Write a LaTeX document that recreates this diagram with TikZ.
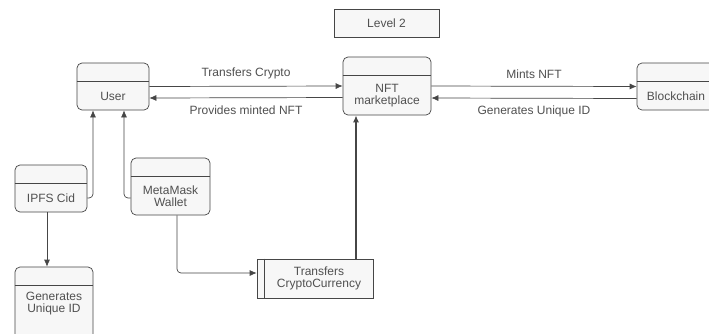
\documentclass[tikz,border=0pt]{standalone}
\usepackage{fontspec}
\setmainfont{Liberation Sans}
\usetikzlibrary{arrows.meta}
\usetikzlibrary{calc}
\definecolor{mygrey}{RGB}{70,70,70}
\definecolor{mytext}{RGB}{80,80,80}
\definecolor{myfill}{RGB}{247,247,247}
\newcommand\lanenode[6][]{%
  \node[lane,minimum width=#4pt,minimum height=#5pt] (#2) at (#3) {};
  \draw[mygrey,line width=0.7pt] ([yshift=-19pt]#2.north west) -- ([yshift=-19pt]#2.north east);
  \node[lanetext,#1] (#2 txt) at ($(#2.south)!0.5!([yshift=-19pt]#2.north)$) {#6};
}

\begin{document}
\begin{tikzpicture}[
x=1pt,y=-1pt,
>={Latex[length=7pt,width=6pt]},
lane/.style={
  draw=mygrey,
  line width=0.7pt,
  fill=myfill,
  rounded corners=5pt},
lanetext/.style={
  text=mytext,
  align=center,
  font=\fontsize{12}{12.5}\selectfont},
flow/.style={->,draw=mygrey,line width=0.7pt,rounded corners=4pt}
]
\useasboundingbox (0,0) rectangle (709,333);
\fill[white] (0,0) rectangle (709,333);

\node[draw=mygrey,line width=0.7pt,fill=myfill,minimum width=105pt,minimum height=28pt,
  text=mytext,font=\fontsize{12}{12.5}\selectfont] (level) at (386.5,23) {Level 2};

\lanenode{user}{113,86.5}{72}{47}{User}
\lanenode{nft}{387,86}{88}{58}{NFT\\marketplace}
\lanenode{chain}{676,86.5}{78}{47}{Blockchain}
\lanenode{ipfs}{51,188.5}{72}{47}{IPFS Cid}
\lanenode{wallet}{170.5,186.5}{79}{57}{MetaMask\\Wallet}
\lanenode[yshift=9pt]{uid}{54,303}{78}{72}{Generates\\Unique ID}

\node[draw=mygrey,line width=0.7pt,fill=myfill,minimum width=116pt,minimum height=39pt] (xfer) at (315,278.5) {};
\draw[mygrey,line width=0.7pt] ([xshift=8pt]xfer.north west) -- ([xshift=8pt]xfer.south west);
\node[lanetext] (xfer txt) at ([xshift=4pt]xfer.center) {Transfers\\CryptoCurrency};

% top row
\draw[flow] (user.east) -- node[lanetext,above=4pt] {Transfers Crypto} (nft.west);
\draw[flow] ([yshift=-11.5pt]nft.west) -- node[lanetext,below=4pt] {Provides minted NFT} ([yshift=-11.5pt]user.east);
\draw[flow] (nft.east) -- node[lanetext,above=4pt] {Mints NFT} (chain.west);
\draw[flow] ([yshift=-12pt]chain.west) -- node[lanetext,below=4pt] {Generates Unique ID} ([yshift=-12pt]nft.east);

% left side
\draw[flow] ([yshift=-9.5pt]ipfs.east) -| ([xshift=-20pt]user.south);
\draw[flow] ([yshift=-11.5pt]wallet.west) -| ([xshift=11pt]user.south);
\draw[flow] ([xshift=-4pt]ipfs.south) -- ([xshift=-4pt]ipfs.south |- uid.north);
\draw[flow] ([xshift=6.5pt]wallet.south) |- ([yshift=5.5pt]xfer.west);
\draw[flow,line width=1.3pt] ([xshift=41pt]xfer.north) -- ([xshift=41pt]xfer.north |- nft.south);
\end{tikzpicture}
\end{document}
